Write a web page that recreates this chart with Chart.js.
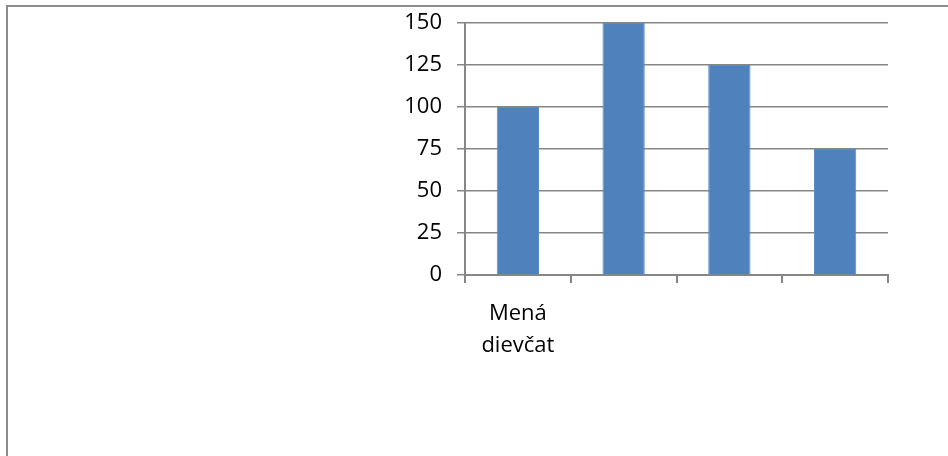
<!DOCTYPE html>
<html>
<head>
<meta charset="utf-8">
<script src="https://cdn.jsdelivr.net/npm/chart.js@4"></script>
<style>
  html, body { margin: 0; padding: 0; background: #fff; }
  #wrap { position: relative; width: 948px; height: 456px; overflow: hidden; }
  #frame { position: absolute; left: 6px; top: 5px; width: 960px; height: 470px; border-left: 2px solid #8c8c8c; border-top: 2px solid #8c8c8c; box-sizing: border-box; }
  canvas { position: absolute; left: 0; top: 0; }
</style>
</head>
<body>
<div id="wrap">
  <div id="frame"></div>
  <canvas id="c" width="948" height="456"></canvas>
</div>
<script>
const categories = [["Mená", "dievčat"], "", "", ""];
const seriesValues = [100, 150, 125, 75];
const yTicks = [0, 25, 50, 75, 100, 125, 150];

const FONT = "'Open Sans', 'Noto Sans', sans-serif";
new Chart(document.getElementById('c'), {
  type: 'bar',
  data: {
    labels: categories,
    datasets: [{
      data: seriesValues,
      backgroundColor: '#4F81BD',
      borderColor: '#5b8cc6',
      borderWidth: 1,
      barPercentage: 0.4,
      categoryPercentage: 1.0
    }]
  },
  options: {
    responsive: false,
    animation: false,
    devicePixelRatio: 1,
    layout: { padding: { left: 0, right: 60, top: 23, bottom: 0 } },
    plugins: { legend: { display: false }, tooltip: { enabled: false } },
    scales: {
      x: {
        offset: true,
        grid: { offset: true, drawOnChartArea: false, drawTicks: true, tickLength: 8, color: '#868686', lineWidth: 2 },
        border: { display: true, color: '#868686', width: 2 },
        ticks: { color: '#000', font: { family: FONT, size: 22, lineHeight: 1.45 }, padding: 15, maxRotation: 0, autoSkip: false },
        afterFit: (s) => { s.height = 181; s.paddingLeft = 0; s.paddingRight = 0; }
      },
      y: {
        min: 0, max: 150,
        afterBuildTicks: (s) => { s.ticks = yTicks.map(v => ({ value: v })); },
        grid: { drawOnChartArea: true, drawTicks: true, tickLength: 8, color: '#868686', lineWidth: 1.5 },
        border: { display: true, color: '#868686', width: 2 },
        ticks: { color: '#000', font: { family: FONT, size: 22 }, padding: 15 },
        afterFit: (s) => { s.width = 465; s.paddingTop = 0; s.paddingBottom = 0; }
      }
    }
  }
});
</script>
</body>
</html>
